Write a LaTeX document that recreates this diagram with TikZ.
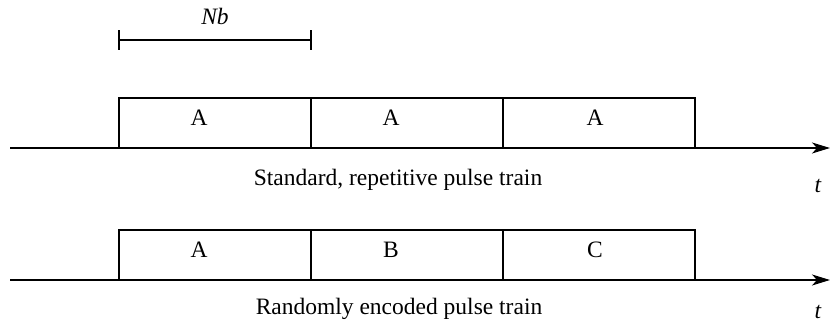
\documentclass[tikz,border=0pt]{standalone}
\usepackage{fontspec}
\setmainfont{Liberation Serif}
\usetikzlibrary{arrows.meta}
\begin{document}
\begin{tikzpicture}[x=1pt,y=-1pt,
  every node/.style={font=\fontsize{23.5}{27}\selectfont, inner sep=0pt},
  slot/.style={draw, line width=1.6pt, minimum width=192pt, minimum height=50pt},
  axis/.style={line width=1.4pt, -{Stealth[length=18pt,width=11pt,inset=5pt]}},
  dim/.style={line width=1.1pt}]
\useasboundingbox (0,0) rectangle (830,323);

% dimension bracket for one slot
\coordinate (d1) at (119,40);
\coordinate (d2) at (311,40);
\draw[dim] (d1) -- (d2);
\draw[dim] ([yshift=-10pt]d1) -- ([yshift=10pt]d1);
\draw[dim] ([yshift=-10pt]d2) -- ([yshift=10pt]d2);
\node (nb) at (215,16) {\itshape Nb};

% standard train
\coordinate (a1s) at (10,148);
\coordinate (a1e) at (830,148);
\draw[axis] (a1s) -- (a1e);
\node[slot] (s1) at (215,123) {};
\node[slot] (s2) at (407,123) {};
\node[slot] (s3) at (599,123) {};
\node (ls1) at (199,118) {A};
\node (ls2) at (391,118) {A};
\node (ls3) at (595,118) {A};
\node (cap1) at (398,180) {Standard, repetitive pulse train};
\node (t1) at (818,186) {\itshape t};

% encoded train
\coordinate (a2s) at (10,280);
\coordinate (a2e) at (830,280);
\draw[axis] (a2s) -- (a2e);
\node[slot] (r1) at (215,255) {};
\node[slot] (r2) at (407,255) {};
\node[slot] (r3) at (599,255) {};
\node (lr1) at (199,250) {A};
\node (lr2) at (391,250) {B};
\node (lr3) at (595,250) {C};
\node (cap2) at (399,309) {Randomly encoded pulse train};
\node (t2) at (818,312) {\itshape t};
\end{tikzpicture}
\end{document}
